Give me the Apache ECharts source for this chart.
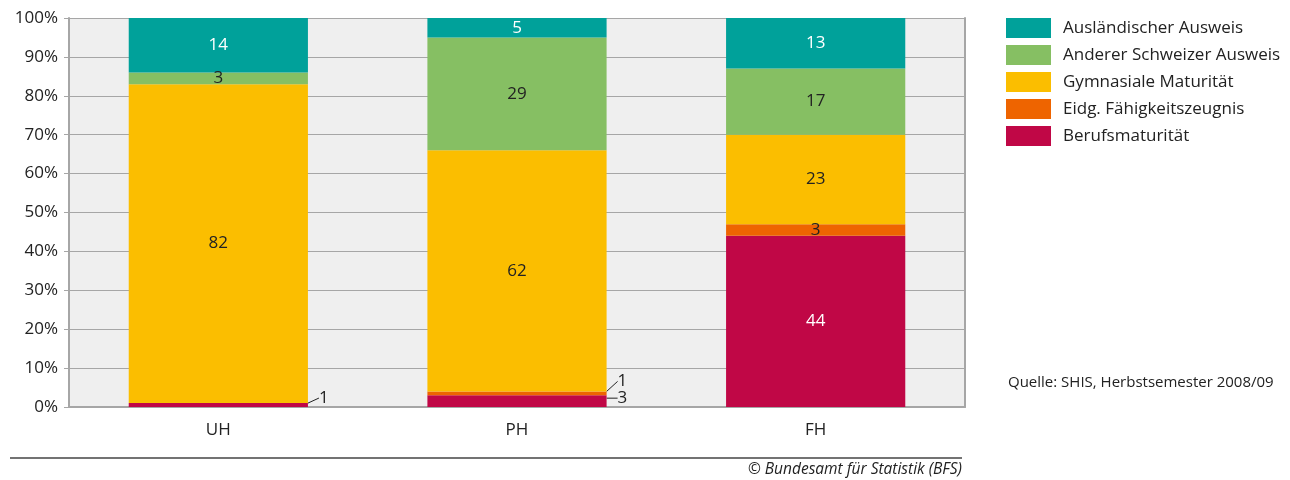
<!DOCTYPE html>
<html>
<head>
<meta charset="utf-8">
<title>Studieneintritte nach Zulassungsausweis</title>
<script src="https://cdn.jsdelivr.net/npm/echarts@6/dist/echarts.min.js"></script>
<style>
  html, body { margin: 0; padding: 0; background: #fff; }
  #main { width: 1290px; height: 480px; }
</style>
</head>
<body>
<div id="main"></div>
<script>
// Hochschultyp
var categories = ['UH', 'PH', 'FH'];
// Anteile in %, von unten nach oben gestapelt
var berufsmaturitaet = [1, 3, 44];
var eidgFaehigkeit   = [0, 1, 3];
var gymnasiale       = [82, 62, 23];
var andererAusweis   = [3, 29, 17];
var auslaendisch     = [14, 5, 13];
var yTicks = [0, 10, 20, 30, 40, 50, 60, 70, 80, 90, 100];

var FONT = '"Open Sans", "Noto Sans", sans-serif';

// kleine Werte, die mit Hinweislinie neben dem Balken stehen: [serie, kategorie, dy]
var outside = [[0, 0, -7], [1, 1, -12], [0, 1, -3]];
function findOutside(s, d) {
  for (var i = 0; i < outside.length; i++) {
    if (outside[i][0] === s && outside[i][1] === d) return outside[i];
  }
  return null;
}

function mkSeries(name, values, color, labelColor, sIdx) {
  return {
    name: name,
    type: 'bar',
    stack: 'all',
    barWidth: '60%',
    itemStyle: { color: color },
    label: {
      show: true,
      position: 'inside',
      color: labelColor,
      fontFamily: FONT,
      fontSize: 17,
      formatter: function (p) { return p.value ? String(p.value) : ''; }
    },
    data: values.map(function (v, i) {
      var o = findOutside(sIdx, i);
      if (o) {
        return { value: v, label: { color: '#222' }, labelLine: { show: true, lineStyle: { color: '#222', width: 1 } } };
      }
      return v;
    })
  };
}

var chart = echarts.init(document.getElementById('main'));
chart.setOption({
  backgroundColor: '#fff',
  animation: false,
  textStyle: { fontFamily: FONT },
  grid: { left: 69, right: 325, top: 18, bottom: 73, show: true, backgroundColor: '#efefef', borderWidth: 0 },
  legend: {
    orient: 'vertical',
    left: 1001,
    top: 13,
    itemWidth: 45,
    itemHeight: 20,
    itemGap: 7,
    icon: 'rect',
    textStyle: { fontFamily: FONT, fontSize: 17, color: '#222', padding: [0, 0, 0, 7] },
    data: ['Ausländischer Ausweis', 'Anderer Schweizer Ausweis', 'Gymnasiale Maturität', 'Eidg. Fähigkeitszeugnis', 'Berufsmaturität']
  },
  xAxis: {
    type: 'category',
    data: categories,
    axisLine: { lineStyle: { color: '#a6a6a6', width: 2 } },
    axisTick: { show: false },
    axisLabel: { color: '#222', fontSize: 17, margin: 15, fontFamily: FONT }
  },
  yAxis: [{
    type: 'value',
    min: yTicks[0],
    max: yTicks[yTicks.length - 1],
    interval: 10,
    axisLine: { show: true, lineStyle: { color: '#a6a6a6', width: 2 } },
    axisTick: { show: true, length: 5, lineStyle: { color: '#a6a6a6', width: 1 } },
    axisLabel: { color: '#222', fontSize: 17, margin: 11, fontFamily: FONT, formatter: '{value}%' },
    splitLine: { show: true, lineStyle: { color: '#a6a6a6', width: 1 } }
  }, {
    type: 'value',
    position: 'right',
    min: 0,
    max: 100,
    axisLine: { show: true, lineStyle: { color: '#a6a6a6', width: 2 } },
    axisTick: { show: false },
    axisLabel: { show: false },
    splitLine: { show: false }
  }],
  labelLayout: function (p) {
    var o = findOutside(p.seriesIndex, p.dataIndex);
    if (!o) return {};
    return {
      x: p.rect.x + p.rect.width + 11,
      y: p.rect.y + p.rect.height / 2 + o[2],
      align: 'left',
      verticalAlign: 'middle'
    };
  },
  series: [
    mkSeries('Berufsmaturität', berufsmaturitaet, '#c00746', '#fff', 0),
    mkSeries('Eidg. Fähigkeitszeugnis', eidgFaehigkeit, '#ee6400', '#222', 1),
    mkSeries('Gymnasiale Maturität', gymnasiale, '#fbbe00', '#222', 2),
    mkSeries('Anderer Schweizer Ausweis', andererAusweis, '#86bf63', '#222', 3),
    mkSeries('Ausländischer Ausweis', auslaendisch, '#00a19a', '#fff', 4)
  ],
  graphic: [
    { type: 'text', left: 1008, top: 375, style: { text: 'Quelle: SHIS, Herbstsemester 2008/09', font: '15px ' + FONT, fill: '#222' } },
    { type: 'line', shape: { x1: 10, y1: 458, x2: 962, y2: 458 }, style: { stroke: '#444', lineWidth: 1.5 } },
    { type: 'text', right: 1290 - 962, top: 462, style: { text: '© Bundesamt für Statistik (BFS)', font: 'italic 15.5px ' + FONT, fill: '#222' } }
  ]
});
</script>
</body>
</html>
